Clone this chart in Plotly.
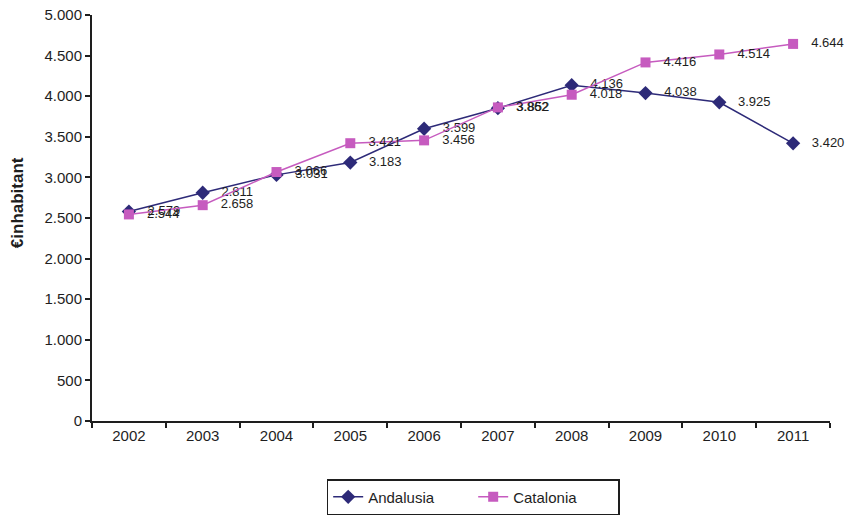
import plotly.graph_objects as go

years = ["2002", "2003", "2004", "2005", "2006", "2007", "2008", "2009", "2010", "2011"]
andalusia = [2579, 2811, 3031, 3183, 3599, 3852, 4136, 4038, 3925, 3420]
catalonia = [2544, 2658, 3066, 3421, 3456, 3862, 4018, 4416, 4514, 4644]

navy = "#2D2A78"
magenta = "#C65BBF"
ink = "#1E1E1E"
font_family = "Liberation Sans, Arial, sans-serif"

fig = go.Figure()
fig.add_trace(go.Scatter(
    x=years, y=andalusia, name="Andalusia",
    mode="lines+markers+text",
    line=dict(color=navy, width=1.5),
    marker=dict(symbol="diamond", size=11, color=navy),
    texttemplate="   %{y:,}", textposition="middle right",
    textfont=dict(family=font_family, size=13, color=ink),
    cliponaxis=False,
))
fig.add_trace(go.Scatter(
    x=years, y=catalonia, name="Catalonia",
    mode="lines+markers+text",
    line=dict(color=magenta, width=1.5),
    marker=dict(symbol="square", size=10, color=magenta),
    texttemplate="   %{y:,}", textposition="middle right",
    textfont=dict(family=font_family, size=13, color=ink),
    cliponaxis=False,
))

fig.update_layout(
    width=848, height=516,
    margin=dict(l=92, r=18, t=15, b=95, autoexpand=False),
    paper_bgcolor="white", plot_bgcolor="white",
    separators=",.",
    font=dict(family=font_family, size=15, color=ink),
    showlegend=True,
    legend=dict(
        orientation="h", x=0.318, xanchor="left", y=-0.143, yanchor="top",
        bordercolor=ink, borderwidth=1.5,
        font=dict(family=font_family, size=15, color=ink),
        entrywidth=100, entrywidthmode="pixels",
    ),
    annotations=[dict(
        text="<b>€inhabitant</b>", textangle=-90,
        xref="paper", yref="paper", x=-0.1, y=0.537,
        xanchor="center", yanchor="middle", showarrow=False,
        font=dict(family=font_family, size=17, color=ink),
    )],
)
fig.update_xaxes(
    type="category", range=[-0.5, 9.5], automargin=False,
    showline=True, linecolor=ink, linewidth=2,
    ticks="outside", tickson="boundaries", ticklen=5, tickcolor=ink, tickwidth=1.5,
    showgrid=False, zeroline=False,
    tickfont=dict(size=15),
)
fig.update_yaxes(
    range=[0, 5000], dtick=500, tickformat=",d", automargin=False,
    showline=True, linecolor=ink, linewidth=2,
    ticks="outside", ticklen=5, tickcolor=ink, tickwidth=1.5,
    showgrid=False, zeroline=False,
    tickfont=dict(size=15),
)

fig.write_html("out.html")
